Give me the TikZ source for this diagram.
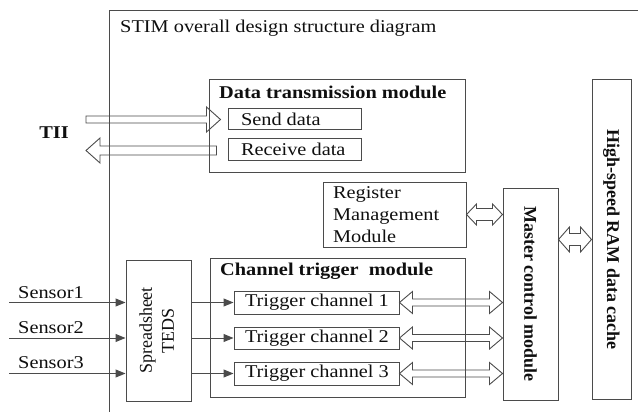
\documentclass[tikz,border=0pt]{standalone}
\usepackage{fontspec}
\setmainfont{Liberation Serif}[FakeStretch=1.13]
\newfontfamily\rotserif{Liberation Serif}
\usetikzlibrary{calc,arrows.meta}
\definecolor{linec}{RGB}{75,75,75}
\definecolor{textc}{RGB}{15,15,15}
\newcommand{\dblarr}[5]{%
  \draw[hollow] (#1) -- ($(#1)+(#5,-#4)$) -- ($(#1)+(#5,-#3)$) -- ($(#2)+(-#5,-#3)$) -- ($(#2)+(-#5,-#4)$) -- (#2) -- ($(#2)+(-#5,#4)$) -- ($(#2)+(-#5,#3)$) -- ($(#1)+(#5,#3)$) -- ($(#1)+(#5,#4)$) -- cycle;}
\newcommand{\rarr}[5]{%
  \draw[hollow] ($(#1)+(0,-#3)$) -- ($(#2)+(-#5,-#3)$) -- ($(#2)+(-#5,-#4)$) -- (#2) -- ($(#2)+(-#5,#4)$) -- ($(#2)+(-#5,#3)$) -- ($(#1)+(0,#3)$) -- cycle;}
\newcommand{\larr}[5]{%
  \draw[hollow] (#1) -- ($(#1)+(#5,-#4)$) -- ($(#1)+(#5,-#3)$) -- ($(#2)+(0,-#3)$) -- ($(#2)+(0,#3)$) -- ($(#1)+(#5,#3)$) -- ($(#1)+(#5,#4)$) -- cycle;}
\newcommand{\lline}[2]{\makebox[#1][l]{#2}}
\tikzset{
  txt/.style={font=\fontsize{18}{22}\selectfont, text=textc},
  boldtxt/.style={font=\fontsize{18}{22}\selectfont\bfseries, text=textc},
  box/.style={draw=linec, line width=1pt, inner ysep=0pt, txt},
  lbox/.style={box, inner xsep=#1},
  rbox/.style={draw=linec, line width=1pt, inner sep=0pt, font=\fontsize{18}{22}\rotserif\bfseries, text=textc},
  hollow/.style={draw=linec, line width=0.9pt, line join=miter},
  frame/.style={draw=linec, line width=1pt},
  sensorarrow/.style={draw=linec, line width=1pt, -{Triangle[length=10pt,width=8pt]}}
}
\begin{document}
\begin{tikzpicture}[x=1pt,y=-1pt]
\useasboundingbox (0,0) rectangle (638,412);
% outer frame
\draw[frame] (109,412) -- (109,11) -- (638,11);
\node[txt, anchor=base west, inner sep=0] (title) at (120,33) {STIM overall design structure diagram};
% data transmission module
\node[box, minimum width=256, minimum height=92] (dtm) at (337,126) {};
\node[boldtxt, anchor=base west, inner sep=0] (dtmt) at (219,99) {Data transmission module};
\node[lbox=13pt, minimum height=21] (send) at (294.5,119.5) {\lline{107pt}{Send data}};
\node[lbox=13pt, minimum height=22] (recv) at (294.5,149) {\lline{107pt}{Receive data}};
\node[boldtxt, inner sep=0] (tii) at (54,133) {TII};
\coordinate (sendtail) at (86,119.5);
\coordinate (recvtip) at (86,150.5);
\coordinate (sendtip) at ($(send.west)+(-7,0)$);
\coordinate (recvtail) at ($(recv.west)+(-11,1.5)$);
\rarr{sendtail}{sendtip}{3.5}{12.5}{14}
\larr{recvtip}{recvtail}{4.5}{12.5}{14}
% register management
\node[lbox=10pt, align=left, text width=123, minimum height=65] (reg) at (394.5,214.5) {Register\\Management\\Module};
% master control
\node[rbox, minimum width=55, minimum height=212] (mc) at (530.5,294) {\rotatebox{-90}{Master control module}};
% RAM
\node[rbox, minimum width=39, minimum height=319] (ram) at (611.5,239.5) {\rotatebox{-90}{High-speed RAM data cache}};
\coordinate (regR) at (mc.west |- reg.east);
\dblarr{reg.east}{regR}{6}{10.5}{10}
\coordinate (mcR) at (mc.east |- ram.west);
\dblarr{mcR}{ram.west}{6}{12.5}{11}
% channel trigger module
\node[box, minimum width=255, minimum height=139] (ctm) at (337.5,327.5) {};
\node[boldtxt, anchor=base west, inner sep=0] (ctmt) at (220,275) {Channel trigger\ \ module};
\node[lbox=11pt, minimum height=23] (tc1) at (316.5,302.5) {\lline{143pt}{Trigger channel 1}};
\node[lbox=11pt, minimum height=22] (tc2) at (316.5,338) {\lline{143pt}{Trigger channel 2}};
\node[lbox=11pt, minimum height=23] (tc3) at (316.5,373.5) {\lline{143pt}{Trigger channel 3}};
\coordinate (m1) at (mc.west |- tc1.east);
\coordinate (m2) at (mc.west |- tc2.east);
\coordinate (m3) at (mc.west |- tc3.east);
\dblarr{tc1.east}{m1}{3.5}{11}{13}
\dblarr{tc2.east}{m2}{3.5}{11}{13}
\dblarr{tc3.east}{m3}{3.5}{11}{13}
% TEDS
\node[draw=linec, line width=1pt, inner sep=0, minimum width=65, minimum height=141, font=\fontsize{18}{22}\rotserif, text=textc] (teds) at (158.5,330.5) {\rotatebox{90}{\begin{tabular}{@{}c@{}}Spreadsheet\\TEDS\end{tabular}}};
% sensors
\coordinate (s1) at (9,0 |- tc1.west);
\coordinate (s2) at (9,0 |- tc2.west);
\coordinate (s3) at (9,0 |- tc3.west);
\coordinate (t1) at (teds.west |- tc1.west);
\coordinate (t2) at (teds.west |- tc2.west);
\coordinate (t3) at (teds.west |- tc3.west);
\coordinate (u1) at (teds.east |- tc1.west);
\coordinate (u2) at (teds.east |- tc2.west);
\coordinate (u3) at (teds.east |- tc3.west);
\draw[sensorarrow] (s1) -- (t1);
\draw[sensorarrow] (s2) -- (t2);
\draw[sensorarrow] (s3) -- (t3);
\draw[sensorarrow] (u1) -- (tc1.west);
\draw[sensorarrow] (u2) -- (tc2.west);
\draw[sensorarrow] (u3) -- (tc3.west);
\node[txt, anchor=base west, inner sep=0] (l1) at (18,298) {Sensor1};
\node[txt, anchor=base west, inner sep=0] (l2) at (18,333) {Sensor2};
\node[txt, anchor=base west, inner sep=0] (l3) at (18,368) {Sensor3};
\end{tikzpicture}
\end{document}
